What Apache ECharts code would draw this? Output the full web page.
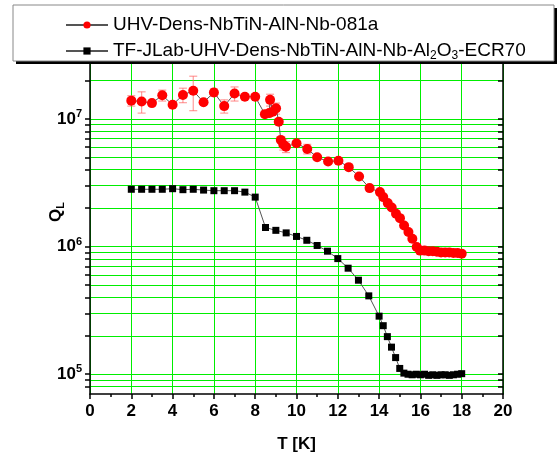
<!DOCTYPE html>
<html>
<head>
<meta charset="utf-8">
<script src="https://cdn.jsdelivr.net/npm/echarts@6/dist/echarts.min.js"></script>
<style>
  html, body { margin: 0; padding: 0; background: #fff; }
  #chart { width: 559px; height: 459px; }
</style>
</head>
<body>
<div id="chart"></div>
<script>
const seriesNames = ['UHV-Dens-NbTiN-AlN-Nb-081a', 'TF-JLab-UHV-Dens-NbTiN-AlN-Nb-Al2O3-ECR70']

// red: T [K], Q_L, error (0 = no bar visible)
const redT = [2.0, 2.5, 3.0, 3.5, 4.0, 4.5, 5.0, 5.5, 6.0, 6.5, 7.0, 7.5, 8.0,
  8.47, 8.68, 8.72, 8.85, 9.01, 9.14, 9.24, 9.36, 9.49,
  10.0, 10.52, 11.0, 11.53, 12.03, 12.53, 13.03, 13.54,
  14.04, 14.2, 14.42, 14.61, 14.82, 15.01, 15.21, 15.42, 15.61, 15.82, 15.98,
  16.2, 16.4, 16.6, 16.8, 17.0, 17.2, 17.4, 17.6, 17.8, 18.0]
const redQ = [1.39e7, 1.37e7, 1.33e7, 1.53e7, 1.29e7, 1.54e7, 1.66e7, 1.35e7, 1.61e7, 1.26e7, 1.58e7, 1.49e7, 1.49e7,
  1.09e7, 1.11e7, 1.41e7, 1.14e7, 1.21e7, 9.5e6, 6.85e6, 6.3e6, 6.05e6,
  6.45e6, 5.82e6, 5.0e6, 4.64e6, 4.70e6, 4.19e6, 3.54e6, 2.87e6,
  2.67e6, 2.44e6, 2.19e6, 2.02e6, 1.81e6, 1.67e6, 1.46e6, 1.30e6, 1.15e6, 9.93e5, 9.3e5,
  9.3e5, 9.2e5, 9.2e5, 9.1e5, 9.0e5, 9.0e5, 9.0e5, 8.9e5, 8.9e5, 8.8e5]
const redErr = [1.3e6, 2.6e6, 0, 1.5e6, 0, 2.0e6, 5.0e6, 0, 1.1e6, 1.5e6, 2.0e6, 0, 0,
  0, 0, 1.5e6, 0, 1.2e6, 0, 0, 6e5, 6e5,
  0, 5e5, 0, 0, 0, 0, 0, 0,
  0, 0, 0, 0, 0, 0, 0, 0, 0, 0, 0,
  0, 0, 0, 0, 0, 0, 0, 0, 0, 0]

// black
const blackT = [2.0, 2.5, 3.0, 3.5, 4.0, 4.5, 5.0, 5.5, 6.0, 6.5, 7.0, 7.5, 8.0, 8.5, 9.0, 9.5,
  10.0, 10.5, 11.0, 11.5, 12.0, 12.5, 13.0, 13.5, 14.0,
  14.2, 14.4, 14.6, 14.8, 15.0,
  15.2, 15.4, 15.6, 15.8, 16.0, 16.2, 16.4, 16.6, 16.8, 17.0, 17.2, 17.4, 17.6, 17.8, 18.0]
const blackQ = [2.81e6, 2.81e6, 2.81e6, 2.81e6, 2.84e6, 2.79e6, 2.81e6, 2.77e6, 2.74e6, 2.74e6, 2.74e6, 2.67e6, 2.44e6, 1.41e6, 1.34e6, 1.28e6,
  1.20e6, 1.12e6, 1.02e6, 9.2e5, 8.05e5, 6.77e5, 5.45e5, 4.11e5, 2.85e5,
  2.40e5, 1.97e5, 1.63e5, 1.35e5, 1.11e5,
  1.02e5, 1.0e5, 0.99e5, 1.0e5, 0.99e5, 1.0e5, 0.98e5, 0.99e5, 0.98e5, 0.99e5, 0.99e5, 0.98e5, 0.99e5, 1.0e5, 1.01e5]

const yLabelTicks = [1e5, 1e6, 1e7]
const yTicks = [8e4, 9e4, 1e5, 2e5, 3e5, 4e5, 5e5, 6e5, 7e5, 8e5, 9e5,
  1e6, 2e6, 3e6, 4e6, 5e6, 6e6, 7e6, 8e6, 9e6, 1e7, 2e7]

const green = '#00ee00'
const errColor = 'rgba(255, 90, 90, 0.6)'
const fontFam = '"Liberation Sans", Arial, sans-serif'

const zip = (a, b) => a.map((v, i) => [v, b[i]])
const errData = []
redT.forEach((t, i) => {
  if (redErr[i] > 0) errData.push([t, redQ[i] - redErr[i], redQ[i] + redErr[i]])
})

const chart = echarts.init(document.getElementById('chart'))

const yCommon = {
  type: 'log',
  min: 7e4,
  max: 3e7,
  axisLine: { show: true, lineStyle: { color: '#000', width: 1.5 } },
  axisTick: { show: true, inside: false, length: 5, customValues: yTicks, lineStyle: { color: '#000', width: 1.5 } },
  splitLine: { show: false },
  minorTick: { show: false }
}

const option = {
  animation: false,
  backgroundColor: '#fff',
  textStyle: { fontFamily: fontFam },
  grid: { left: 90, top: 58, width: 413, height: 336 },
  legend: {
    z: 100,
    orient: 'vertical',
    left: 60,
    top: 9,
    itemWidth: 42,
    itemHeight: 9,
    itemGap: 4,
    data: seriesNames,
    textStyle: { fontSize: 19, color: '#000', lineHeight: 22, fontFamily: fontFam,
      rich: { s: { fontSize: 12, padding: [10, 0, 0, 0], fontFamily: fontFam } } },
    formatter: name => name.replace('Al2O3', 'Al{s|2}O{s|3}')
  },
  graphic: [
    { type: 'rect', z: 90, shape: { x: 16, y: 8, width: 541, height: 56 }, style: { fill: '#000' } },
    { type: 'rect', z: 91, shape: { x: 13, y: 5, width: 541, height: 56 }, style: { fill: '#fff', stroke: '#888', lineWidth: 1 } }
  ],
  xAxis: [{
    type: 'value',
    min: 0,
    max: 20,
    interval: 2,
    name: 'T [K]',
    nameLocation: 'middle',
    nameGap: 42,
    nameTextStyle: { fontSize: 17, fontWeight: 'bold', color: '#000', fontFamily: fontFam },
    axisLine: { show: true, lineStyle: { color: '#000', width: 1.5 } },
    axisTick: { show: true, inside: false, length: 5, lineStyle: { color: '#000', width: 1.5 } },
    minorTick: { show: true, splitNumber: 2, length: 3, lineStyle: { color: '#000', width: 1.5 } },
    axisLabel: { fontSize: 17, fontWeight: 'bold', color: '#000', margin: 9, fontFamily: fontFam },
    splitLine: { show: true, lineStyle: { color: green, width: 1 } }
  }],
  yAxis: [
    Object.assign({}, yCommon, {
      position: 'left',
      name: '{q|Q}{s|L}',
      nameLocation: 'middle',
      nameGap: 24,
      nameMoveOverlap: false,
      nameRotate: 90,
      nameTextStyle: {
        color: '#000',
        padding: [0, 0, 0, 28],
        rich: {
          q: { fontSize: 17, fontWeight: 'bold', color: '#000', fontFamily: fontFam },
          s: { fontSize: 11, fontWeight: 'bold', color: '#000', padding: [9, 0, 0, 0], fontFamily: fontFam }
        }
      },
      axisLabel: {
        customValues: yLabelTicks,
        margin: 8,
        formatter: v => '{b|10}{p|' + Math.round(Math.log10(v)) + '}',
        rich: {
          b: { fontSize: 17, fontWeight: 'bold', color: '#000', fontFamily: fontFam },
          p: { fontSize: 11, fontWeight: 'bold', color: '#000', padding: [0, 0, 10, 0], fontFamily: fontFam }
        }
      },
      splitLine: { show: true, lineStyle: { color: green, width: 1 } }
    }),
    Object.assign({}, yCommon, {
      position: 'right',
      axisTick: Object.assign({}, yCommon.axisTick, { inside: true }),
      axisLabel: { show: false }
    })
  ],
  series: [
    {
      type: 'custom',
      name: 'err',
      z: 1,
      silent: true,
      renderItem: (params, api) => {
        const x = api.value(0)
        const p1 = api.coord([x, api.value(2)])
        const p2 = api.coord([x, api.value(1)])
        const w = 4
        const st = { stroke: errColor, lineWidth: 1.2 }
        return {
          type: 'group',
          children: [
            { type: 'line', shape: { x1: p1[0], y1: p1[1], x2: p2[0], y2: p2[1] }, style: st },
            { type: 'line', shape: { x1: p1[0] - w, y1: p1[1], x2: p1[0] + w, y2: p1[1] }, style: st },
            { type: 'line', shape: { x1: p2[0] - w, y1: p2[1], x2: p2[0] + w, y2: p2[1] }, style: st }
          ]
        }
      },
      encode: { x: 0, y: [1, 2] },
      data: errData
    },
    {
      name: seriesNames[0],
      type: 'line',
      z: 3,
      data: zip(redT, redQ),
      symbol: 'circle',
      symbolSize: 10,
      itemStyle: { color: '#ff0000' },
      lineStyle: { color: '#555', width: 1 }
    },
    {
      name: seriesNames[1],
      type: 'line',
      z: 3,
      data: zip(blackT, blackQ),
      symbol: 'rect',
      symbolSize: 7,
      itemStyle: { color: '#000' },
      lineStyle: { color: '#555', width: 1 }
    }
  ]
}

chart.setOption(option)
</script>
</body>
</html>
